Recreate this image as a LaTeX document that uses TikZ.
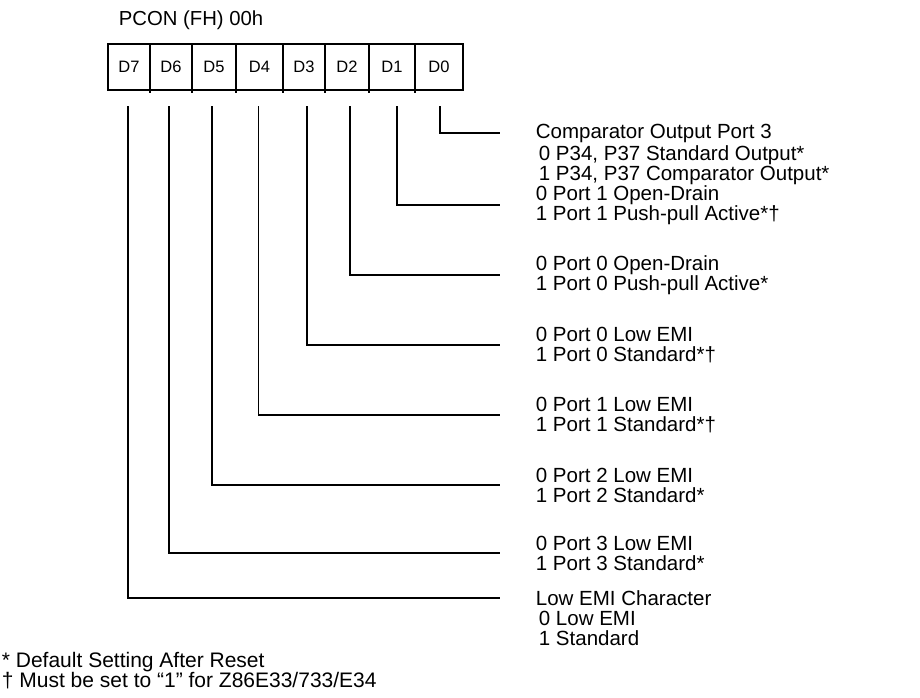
\documentclass[tikz,border=0pt]{standalone}
\usepackage{fontspec}
\setmainfont{Liberation Sans}
\usepackage{tikz}
\usetikzlibrary{positioning}
\tikzset{
  every picture/.style={line width=1.8pt},
  cell/.style={draw, outer sep=0pt, inner sep=0pt, minimum height=46pt, font=\fontsize{16.5pt}{16.5pt}\selectfont},
  wire/.style={draw, line cap=rect, shorten >=36pt},
  desc/.style={anchor=west, inner sep=0pt, align=left, font=\fontsize{20.5pt}{20pt}\selectfont},
  note/.style={anchor=base west, inner sep=0pt, font=\fontsize{21pt}{21pt}\selectfont},
}

\begin{document}
\begin{tikzpicture}[x=1pt, y=-1pt]
  \useasboundingbox (0,0) rectangle (920,698);
  \node[note, font=\fontsize{20.3pt}{20pt}\selectfont] (regname) at (118,26) {PCON (FH) 00h};
  % register cells
  \foreach \i/\l/\r in {7/108/150, 6/150/192, 5/192/236, 4/236/283,
                        3/283/325, 2/325/369, 1/369/415, 0/415/463}
    \node[cell, minimum width={(\r-\l)*1pt}] (d\i) at ({(\l+\r)/2},67) {D\i};
  \foreach \i in {1,...,7}
    \draw (d\i.south east) -- ++(0,3);
  % bit descriptions
  \node[desc] (txt0) at (535,133) {Comparator Output Port 3};
  \node[desc] (opt0) at (538,165) {0 P34, P37 Standard Output*\\1 P34, P37 Comparator Output*};
  \node[desc] (txt1) at (535,205) {0 Port 1 Open-Drain\\1 Port 1 Push-pull Active*†};
  \node[desc] (txt2) at (535,275) {0 Port 0 Open-Drain\\1 Port 0 Push-pull Active*};
  \node[desc] (txt3) at (535,345) {0 Port 0 Low EMI\\1 Port 0 Standard*†};
  \node[desc] (txt4) at (535,415) {0 Port 1 Low EMI\\1 Port 1 Standard*†};
  \node[desc] (txt5) at (535,485) {0 Port 2 Low EMI\\1 Port 2 Standard*};
  \node[desc] (txt6) at (535,553) {0 Port 3 Low EMI\\1 Port 3 Standard*};
  \node[desc] (txt7) at (535,598) {Low EMI Character};
  \node[desc] (opt7) at (538,628) {0 Low EMI\\1 Standard};
  \foreach \i/\dx in {0/1, 1/5, 2/3, 3/3, 4/-1, 5/-2, 6/-2, 7/-1}
    \draw[wire] ([xshift=\dx pt, yshift=-17pt]d\i.south) |- (txt\i.west);
  % footnotes
  \node[note] (fn1) at (1,667) {* Default Setting After Reset};
  \node[note] (fn2) at (1,687) {† Must be set to “1” for Z86E33/733/E34};
\end{tikzpicture}
\end{document}
